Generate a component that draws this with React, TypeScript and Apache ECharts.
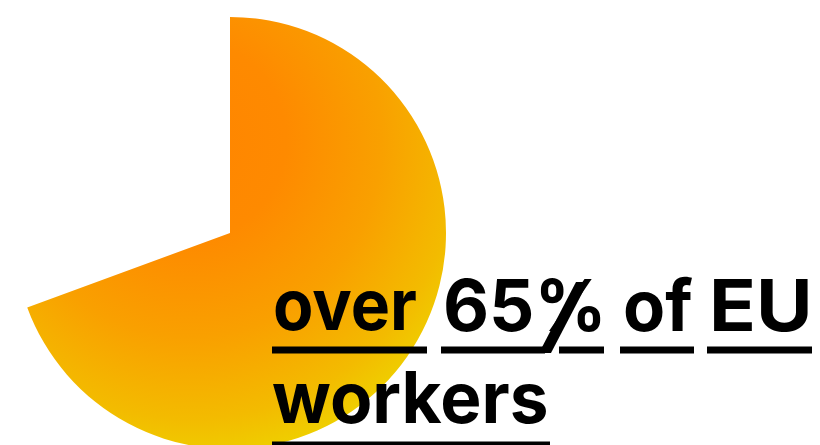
import React, { useEffect, useRef } from 'react';
import * as echarts from 'echarts';

const shareLabels = ['EU workers', 'rest'];
const shareValues = [69.4, 30.6];
const headlineLine1 = ['over', '65%', 'of', 'EU'];
const headlineLine2 = ['workers'];

const line1X = [273, 443, 623, 709];
const line1Scale = [0.93, 1.0, 0.97, 1.09];
const line1Under = [[272, 427], [441, 545], [559, 604], [620, 694], [707, 812]];
const line2X = [272];
const line2Scale = [0.975];
const line2Under = [[272, 550]];
const slashPoints = [[576, 282], [588, 282], [551, 353], [539, 353]];

export default function App() {
  const ref = useRef<HTMLDivElement>(null);
  useEffect(() => {
    document.body.style.margin = '0';
    const chart = echarts.init(ref.current!, null, { renderer: 'svg' });
    const fill = new echarts.graphic.RadialGradient(0.39, 0.285, 0.76, [
      { offset: 0, color: '#ff8500' },
      { offset: 0.3, color: '#fe8a00' },
      { offset: 0.6, color: '#f9a000' },
      { offset: 0.85, color: '#f3bb00' },
      { offset: 1, color: '#eed300' },
    ]);
    const font = { fontSize: 71, fontWeight: 700, fontFamily: 'Inter', fill: '#000', verticalAlign: 'middle', align: 'left' };
    const elements: any[] = [];
    headlineLine1.forEach((w, i) => {
      elements.push({ type: 'text', x: line1X[i], y: 305, scaleX: line1Scale[i], z: 100, style: { ...font, text: w } });
    });
    line1Under.forEach((u) => {
      elements.push({ type: 'rect', z: 100, shape: { x: u[0], y: 346.5, width: u[1] - u[0], height: 7 }, style: { fill: '#000' } });
    });
    elements.push({ type: 'polygon', z: 100, shape: { points: slashPoints }, style: { fill: '#000' } });
    headlineLine2.forEach((w, i) => {
      elements.push({ type: 'text', x: line2X[i], y: 397, scaleX: line2Scale[i], z: 100, style: { ...font, text: w } });
    });
    line2Under.forEach((u) => {
      elements.push({ type: 'rect', z: 100, shape: { x: u[0], y: 441.5, width: u[1] - u[0], height: 7 }, style: { fill: '#000' } });
    });
    chart.setOption({
      animation: false,
      series: [
        {
          type: 'pie',
          center: [230, 233],
          radius: [0, 216],
          startAngle: 90,
          clockwise: true,
          silent: true,
          label: { show: false },
          labelLine: { show: false },
          data: shareLabels.map((name, i) => ({
            name,
            value: shareValues[i],
            itemStyle: i === 0 ? { color: fill } : { color: 'rgba(0,0,0,0)' },
          })),
        },
      ],
      graphic: elements,
    });
    return () => chart.dispose();
  }, []);
  return <div ref={ref} style={{ width: 820, height: 445 }} />;
}
